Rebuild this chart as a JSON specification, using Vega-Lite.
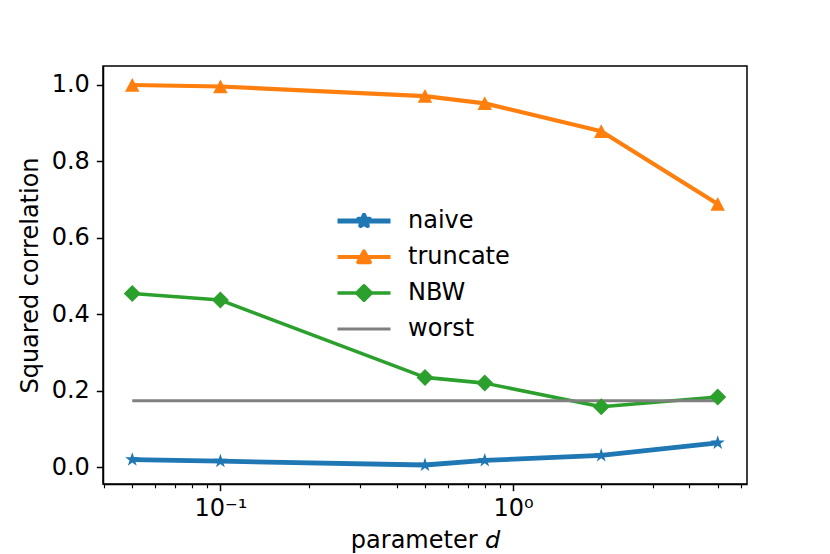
{
  "$schema": "https://vega.github.io/schema/vega-lite/v6.json",
  "width": 644,
  "height": 418,
  "autosize": "none",
  "padding": {"left": 103, "top": 66, "right": 83, "bottom": 70},
  "background": "white",
  "data": {
    "values": [
      {"series": "naive", "d": 0.05, "r2": 0.020},
      {"series": "naive", "d": 0.1, "r2": 0.016},
      {"series": "naive", "d": 0.5, "r2": 0.006},
      {"series": "naive", "d": 0.8, "r2": 0.018},
      {"series": "naive", "d": 2, "r2": 0.031},
      {"series": "naive", "d": 5, "r2": 0.064},
      {"series": "truncate", "d": 0.05, "r2": 0.999},
      {"series": "truncate", "d": 0.1, "r2": 0.995},
      {"series": "truncate", "d": 0.5, "r2": 0.970},
      {"series": "truncate", "d": 0.8, "r2": 0.951},
      {"series": "truncate", "d": 2, "r2": 0.878},
      {"series": "truncate", "d": 5, "r2": 0.688},
      {"series": "NBW", "d": 0.05, "r2": 0.454},
      {"series": "NBW", "d": 0.1, "r2": 0.437},
      {"series": "NBW", "d": 0.5, "r2": 0.235},
      {"series": "NBW", "d": 0.8, "r2": 0.220},
      {"series": "NBW", "d": 2, "r2": 0.158},
      {"series": "NBW", "d": 5, "r2": 0.184},
      {"series": "worst", "d": 0.05, "r2": 0.174},
      {"series": "worst", "d": 5, "r2": 0.174}
    ]
  },
  "resolve": {"axis": {"x": "independent"}},
  "layer": [
    {
      "mark": {"type": "line", "strokeJoin": "round", "strokeCap": "butt"},
      "encoding": {
        "x": {
          "field": "d",
          "type": "quantitative",
          "scale": {"type": "log", "domain": [0.03972, 6.295], "nice": false},
          "axis": {
            "orient": "bottom",
            "values": [0.1, 1],
            "labelExpr": "datum.value < 0.5 ? '10⁻¹' : '10⁰'",
            "tickSize": 6.7,
            "tickWidth": 1.5,
            "labelPadding": 5.5,
            "title": "parameter 𝘥",
            "titlePadding": 8.5
          }
        },
        "y": {
          "field": "r2",
          "type": "quantitative",
          "scale": {"domain": [-0.0436, 1.0486], "nice": false, "zero": false},
          "axis": {
            "values": [0, 0.2, 0.4, 0.6, 0.8, 1.0],
            "format": ".1f",
            "tickSize": 6.7,
            "tickWidth": 1.5,
            "labelPadding": 7,
            "title": "Squared correlation",
            "titlePadding": 9
          }
        },
        "color": {
          "field": "series",
          "type": "nominal",
          "sort": ["naive", "truncate", "NBW", "worst"],
          "scale": {
            "domain": ["naive", "truncate", "NBW", "worst"],
            "range": ["#1f77b4", "#ff7f0e", "#2ca02c", "#808080"]
          },
          "legend": {
            "orient": "none",
            "legendX": 249,
            "legendY": 143,
            "title": null,
            "padding": 0,
            "rowPadding": 12,
            "symbolSize": 100,
            "labelOffset": 32,
            "labelFontSize": 24,
            "labelFont": "DejaVu Sans",
            "labelColor": "black",
            "encode": {
              "symbols": {
                "update": {
                  "shape": {"signal": "datum.value === 'naive' ? 'M-5.3,0H5.3M0,-1.15L0.258,-0.355L1.094,-0.355L0.418,0.136L0.676,0.93L0,0.439L-0.676,0.93L-0.418,0.136L-1.094,-0.355L-0.258,-0.355Z' : datum.value === 'truncate' ? 'M-5.3,0H5.3M0,-1.1L1.15,1.05L-1.15,1.05Z' : datum.value === 'NBW' ? 'M-5.3,0H5.3M-1.45,0L0,-1.45L1.45,0L0,1.45Z' : 'M-5.3,0H5.3'"},
                  "size": {"value": 100},
                  "fill": {"scale": "color", "field": "value"},
                  "stroke": {"scale": "color", "field": "value"},
                  "fillOpacity": {"value": 1},
                  "strokeOpacity": {"value": 1},
                  "opacity": {"value": 1},
                  "strokeJoin": {"value": "round"},
                  "strokeWidth": {"signal": "datum.value === 'naive' ? 4.8 : 2.9"}
                }
              }
            }
          }
        },
        "strokeWidth": {
          "field": "series",
          "type": "nominal",
          "scale": {
            "domain": ["naive", "truncate", "NBW", "worst"],
            "range": [4.8, 2.9, 2.9, 2.9]
          },
          "legend": null
        }
      }
    },
    {
      "transform": [{"filter": "datum.series !== 'worst'"}],
      "mark": {"type": "point", "filled": true, "opacity": 1, "size": 100},
      "encoding": {
        "x": {
          "field": "d",
          "type": "quantitative",
          "scale": {"type": "log", "domain": [0.03972, 6.295], "nice": false},
          "axis": {
            "orient": "bottom",
            "values": [0.04, 0.05, 0.06, 0.07, 0.08, 0.09, 0.2, 0.3, 0.4, 0.5, 0.6, 0.7, 0.8, 0.9, 2, 3, 4, 5, 6],
            "labels": false,
            "domain": false,
            "tickSize": 3.8,
            "tickWidth": 1.15,
            "title": null
          }
        },
        "y": {"field": "r2", "type": "quantitative"},
        "color": {"field": "series", "type": "nominal"},
        "shape": {
          "field": "series",
          "type": "nominal",
          "scale": {
            "domain": ["naive", "truncate", "NBW"],
            "range": [
              "M0,-1.5L0.337,-0.464L1.427,-0.464L0.546,0.177L0.882,1.214L0,0.573L-0.882,1.214L-0.546,0.177L-1.427,-0.464L-0.337,-0.464Z",
              "M0,-1.4L1.45,1.35L-1.45,1.35Z",
              "M-1.7,0L0,-1.7L1.7,0L0,1.7Z"
            ]
          },
          "legend": null
        }
      }
    }
  ],
  "config": {
    "font": "DejaVu Sans",
    "view": {"stroke": "black", "strokeWidth": 1.5},
    "axis": {
      "grid": false,
      "labelFont": "DejaVu Sans",
      "labelFontSize": 24,
      "labelColor": "black",
      "tickColor": "black",
      "domainColor": "black",
      "domainWidth": 1.5,
      "titleFont": "DejaVu Sans",
      "titleFontSize": 24,
      "titleFontWeight": "normal",
      "titleColor": "black"
    }
  }
}
